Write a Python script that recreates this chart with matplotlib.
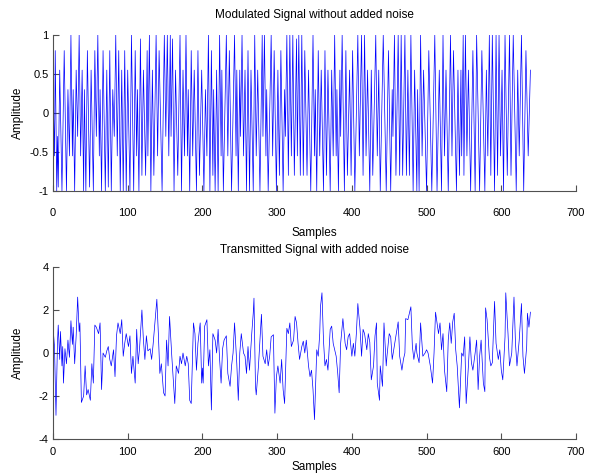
import matplotlib
matplotlib.use('Agg')
import matplotlib.pyplot as plt

# turning points of the modulated signal (sample index, amplitude)
clean_samples = [
    0, 2, 3, 5, 6, 7, 9, 12, 15, 18, 20, 22, 24, 26, 27, 29, 31, 33, 35, 37,
    39, 41, 42, 44, 46, 49, 51, 54, 56, 58, 60, 62, 63, 65, 67, 70, 72, 74, 76, 78,
    80, 82, 84, 86, 88, 90, 92, 94, 96, 98, 100, 103, 105, 108, 110, 112, 113, 115, 117, 119,
    121, 124, 126, 127, 129, 131, 133, 135, 138, 140, 142, 146, 149, 151, 153, 155, 157, 158, 160, 162,
    164, 167, 170, 172, 174, 176, 178, 180, 181, 183, 185, 187, 189, 192, 194, 196, 199, 202, 204, 206,
    208, 210, 212, 214, 215, 217, 219, 221, 223, 225, 226, 228, 232, 234, 236, 239, 243, 245, 246, 248,
    250, 251, 253, 255, 257, 259, 261, 263, 265, 268, 270, 272, 274, 277, 280, 281, 283, 285, 286, 288,
    292, 294, 296, 299, 301, 303, 305, 308, 310, 311, 313, 315, 317, 319, 321, 323, 326, 327, 329, 331,
    333, 335, 337, 340, 342, 345, 348, 350, 351, 353, 355, 357, 359, 362, 364, 366, 368, 371, 373, 375,
    377, 379, 380, 382, 384, 385, 387, 390, 392, 394, 397, 399, 401, 404, 408, 410, 413, 415, 417, 419,
    421, 424, 426, 428, 432, 434, 436, 438, 442, 446, 449, 452, 454, 455, 457, 459, 462, 464, 466, 468,
    471, 473, 475, 477, 479, 482, 484, 487, 488, 490, 492, 494, 496, 500, 503, 507, 511, 514, 517, 520,
    522, 524, 526, 529, 532, 534, 536, 540, 542, 544, 546, 547, 549, 550, 552, 554, 556, 559, 562, 565,
    567, 571, 574, 578, 580, 582, 584, 586, 588, 591, 593, 595, 597, 599, 601, 603, 605, 608, 611, 613,
    616, 620, 622, 624, 627, 630, 633, 636, 639,
]
clean_amplitude = [
    0.3, -0.55, 0.8, -1, -0.3, -0.95, 0.55, -1, 0.8, -1, 0.3, -0.55, 1, -0.55, 0.3, -1, 0.55, -0.3, 1, -0.55,
    0.55, -1, 0.3, -1, 0.8, -0.95, 0.55, -1, 0.8, -0.3, 1, -0.55, 0.3, -1, 0.8, -1, 0.55, -0.95, 0.8, -1,
    0.3, -0.3, 1, -0.55, 0.8, -1, 0.55, -1, 0.8, -1, 0.55, -1, 1, -1, 0.8, -0.55, 0.3, -1, 0.95, -0.8,
    0.55, -0.8, 0.8, -0.55, 1, -1, 0.55, -0.8, 1, -0.55, 0.8, -1, 1, -0.3, 1, -0.55, 1, -0.3, 0.95, -1,
    0.55, -0.8, 1, -1, 0.55, -0.55, 1, -0.55, 0.3, -1, 0.8, -0.55, 0.55, -1, 0.8, -0.8, 0.55, -1, 0.3, -0.55,
    1, -1, 0.8, -0.8, 0.3, -1, 0.55, -1, 1, -0.55, 0.55, -1, 1, -0.55, 0.8, -1, 1, -0.55, 0.55, -1,
    0.55, -0.3, 1, -0.55, 0.55, -1, 0.8, -1, 0.55, -1, 1, -0.55, 0.55, -1, 1, -0.3, 1, -0.55, 0.3, -1,
    1, -0.55, 0.8, -1, 0.55, -0.8, 0.8, -1, 0.3, -0.3, 1, -0.8, 1, -0.55, 1, -0.8, 0.95, -0.55, 1, -0.8,
    1, -0.8, 0.8, -0.8, 0.55, -1, 1, -0.55, 0.3, -1, 0.8, -0.55, 0.55, -1, 0.8, -0.8, 0.55, -1, 0.55, -0.55,
    1, -0.55, 0.3, -1, 0.55, -0.3, 1, -1, 0.8, -0.8, 0.55, -0.8, 0.8, -1, 1, -0.55, 1, -0.8, 1, -0.55,
    0.55, -1, 0.55, -0.8, 1, -0.55, 0.55, -1, 1, -1, 0.8, -1, 0.3, -0.3, 1, -0.8, 1, -0.8, 1, -0.8,
    1, -0.8, 0.55, -0.8, 1, -1, 0.55, -1, 0.3, -1, 1, -0.55, 0.55, -1, 0.8, -1, 1, -1, 0.55, -1,
    1, -0.55, 0.55, -1, 1, -0.55, 0.8, -1, 0.55, -0.8, 0.55, -0.55, 1, -0.8, 1, -0.55, 0.55, -1, 0.8, -1,
    1, -1, 0.8, -1, 0.55, -0.55, 1, -0.8, 1, -1, 1, -0.8, 1, -0.55, 0.55, -1, 1, -0.8, 1, -0.8,
    1, -1, 0.55, -0.55, 1, -1, 0.8, -0.55, 0.55,
]

# turning points of the received signal with noise
noisy_samples = [
    0, 2, 4, 6, 7, 9, 10, 12, 13, 14, 16, 18, 20, 22, 24, 26, 27, 29, 31, 33,
    35, 36, 38, 41, 43, 45, 47, 50, 52, 54, 56, 58, 61, 63, 65, 67, 70, 72, 74, 76,
    78, 81, 83, 85, 87, 90, 92, 94, 96, 98, 101, 103, 105, 107, 110, 112, 114, 116, 119, 121,
    123, 125, 127, 130, 132, 134, 136, 139, 141, 143, 145, 148, 150, 152, 154, 156, 159, 161, 163, 165,
    168, 170, 172, 174, 177, 179, 181, 183, 185, 188, 190, 192, 194, 197, 199, 200, 201, 203, 206, 208,
    210, 212, 214, 217, 219, 221, 223, 225, 227, 229, 232, 234, 237, 239, 241, 243, 246, 248, 250, 252,
    255, 257, 259, 261, 263, 266, 268, 269, 271, 272, 275, 277, 279, 281, 284, 286, 288, 290, 292, 295,
    297, 299, 301, 304, 306, 308, 310, 313, 315, 317, 319, 322, 324, 326, 328, 330, 333, 335, 337, 339,
    342, 344, 346, 348, 350, 353, 355, 357, 358, 360, 362, 364, 366, 368, 371, 373, 375, 377, 379, 381,
    383, 385, 388, 391, 393, 395, 397, 400, 402, 404, 406, 408, 411, 413, 415, 417, 420, 422, 424, 426,
    429, 431, 433, 434, 437, 438, 441, 443, 446, 447, 450, 452, 454, 456, 459, 462, 464, 467, 469, 471,
    472, 475, 479, 481, 483, 486, 487, 490, 492, 495, 498, 500, 502, 505, 508, 510, 512, 516, 518, 520,
    522, 524, 527, 529, 531, 533, 535, 537, 539, 541, 544, 547, 549, 551, 553, 556, 558, 560, 562, 565,
    567, 569, 571, 573, 576, 578, 579, 581, 584, 586, 588, 591, 593, 596, 598, 600, 602, 605, 606, 609,
    611, 614, 617, 619, 621, 624, 627, 629, 631, 634, 635, 637, 639,
]
noisy_amplitude = [
    1.2, 0.3, -2.9, 0.5, 1.3, -0.3, 1.0, -0.6, 0.3, -1.4, 0.2, -0.5, 0.6, -0.2, 1.5, 0.4, 1.2, -0.5, 0.8, 2.6,
    1.0, 1.4, -2.3, -2.0, -0.6, -1.95, -1.7, -2.2, -0.5, -1.4, 1.3, 1.2, 0.9, 1.4, -1.7, 0.0, -0.2, 0.1, 0.3, -0.3,
    -0.6, 0.15, -1.1, 0.8, 1.4, 0.9, 1.55, -0.15, 0.45, 0.9, 0.3, 0.8, -0.95, -0.15, -1.4, 1.1, -0.5, 0.3, 2.0, 0.6,
    -0.3, 0.8, 0.1, 0.2, -0.3, 0.4, 1.25, 2.5, 0.9, -0.95, -0.5, -1.85, -2.0, 0.6, -0.6, 1.7, -0.15, -1.25, -2.35, -0.6,
    -0.95, -0.15, -0.5, 0.0, -0.6, -0.15, -0.5, -2.2, -2.35, 1.4, 0.9, -0.8, 0.45, 1.4, -1.4, -0.7, -1.4, 1.25, 1.55, -0.6,
    0.15, -2.65, 0.9, 0.6, 0.0, 1.1, -0.3, -1.4, 0.2, 0.6, 0.8, -0.95, -1.55, -0.6, 0.0, 1.4, -0.5, -2.2, 0.0, 0.9,
    0.0, -0.15, -0.95, 0.3, -0.8, 0.9, 1.85, 2.55, -1.55, -1.95, -0.6, 0.6, 1.8, -0.15, -0.5, 0.15, -0.6, -0.15, 0.75, 0.85,
    -2.8, -1.1, -0.6, -1.4, -0.3, -1.7, -2.35, 1.15, 0.9, 1.4, 0.3, 0.6, 1.7, 1.4, 0.45, -0.3, 0.3, 0.55, 0.0, 0.6,
    -0.6, -1.1, -0.8, -1.7, -3.1, 0.15, -0.15, 0.9, 2.15, 2.8, 0.6, -0.6, -0.3, -0.8, 1.1, 1.25, 0.45, 0.15, -0.15, -0.9,
    -1.85, 0.45, 1.6, 0.45, 0.15, 0.75, 0.9, -0.15, 0.45, -0.15, 0.9, 2.3, 1.1, -0.15, 1.1, 0.9, 0.15, 0.9, 0.5, -1.25,
    -0.6, 0.8, 1.4, -1.4, -2.2, -0.6, -1.55, 1.4, -0.6, -0.15, 0.9, 0.75, -0.3, 0.15, 0.8, 1.45, -0.15, -0.8, -0.3, 0.0,
    1.6, 1.55, 2.15, 0.3, -0.3, 0.45, 0.0, -0.45, 1.4, -0.15, 0.0, 0.15, 0.0, -0.6, -1.4, 0.0, 1.9, 0.9, 1.4, 0.15,
    0.9, -0.8, -1.8, 0.6, 1.4, 0.45, 1.45, 1.85, 0.15, -0.6, -2.55, 0.0, -0.15, 0.75, -2.35, -0.6, 0.75, -0.45, -0.8, 0.0,
    0.6, -1.7, -0.15, 0.6, -1.4, -1.8, 2.1, 1.55, -0.15, -0.6, -0.45, 2.4, 0.45, -0.3, 0.15, -0.8, -1.25, 0.75, 2.8, 0.9,
    -0.6, 0.0, 2.6, 0.45, -0.6, 0.6, 2.3, -0.15, -0.95, 0.3, 1.85, 1.2, 1.9,
]

x_ticks = [0, 100, 200, 300, 400, 500, 600, 700]
clean_yticks = [-1, -0.5, 0, 0.5, 1]
clean_ylabels = ['-1', '-0.5', '0', '0.5', '1']
noisy_yticks = [-4, -2, 0, 2, 4]
noisy_ylabels = ['-4', '-2', '0', '2', '4']

plt.rcParams['font.family'] = ['Liberation Sans', 'DejaVu Sans']
plt.rcParams['font.size'] = 8

W, H = 591, 476
fig = plt.figure(figsize=(W / 100, H / 100), dpi=100)
fig.patch.set_facecolor('white')

ax1 = fig.add_axes([53 / W, 1 - 191 / H, 523 / W, 156 / H])
ax2 = fig.add_axes([53 / W, 1 - 439 / H, 523 / W, 172 / H])


def style_axis(ax, yticks, ylabels, ylim, height, xpad, xlab_off, title_off, title):
    ax.set_xlim(0, 700)
    ax.set_ylim(ylim)
    ax.set_xticks(x_ticks)
    ax.set_xticklabels([str(t) for t in x_ticks])
    ax.set_yticks(yticks)
    ax.set_yticklabels(ylabels)
    for s in ['top', 'right']:
        ax.spines[s].set_visible(False)
    for s in ['left', 'bottom']:
        ax.spines[s].set_color('#505050')
        ax.spines[s].set_linewidth(0.8)
    ax.tick_params(direction='in', length=4, width=0.8, color='#505050',
                   labelcolor='black', labelsize=8)
    ax.tick_params(axis='x', pad=xpad)
    ax.tick_params(axis='y', pad=3)
    ax.set_xlabel('Samples', fontsize=8.5, va='center')
    ax.xaxis.set_label_coords(0.5, -xlab_off / height)
    ax.set_ylabel('Amplitude', fontsize=8.5, va='center')
    ax.yaxis.set_label_coords(-35 / 523, 0.5)
    # titles sit at a fixed pixel distance above the plotting area
    ax.set_title(title, fontsize=8.5, y=1 + title_off / height, va='center', pad=0)


ax1.plot(clean_samples, clean_amplitude, color='#0000ff', linewidth=0.5)
style_axis(ax1, clean_yticks, clean_ylabels, (-1, 1), 156, 12, 42, 20,
           'Modulated Signal without added noise')

ax2.plot(noisy_samples, noisy_amplitude, color='#0000ff', linewidth=0.5)
style_axis(ax2, noisy_yticks, noisy_ylabels, (-4, 4), 172, 6, 28, 17,
           'Transmitted Signal with added noise')

fig.savefig('out.png', dpi=100)
